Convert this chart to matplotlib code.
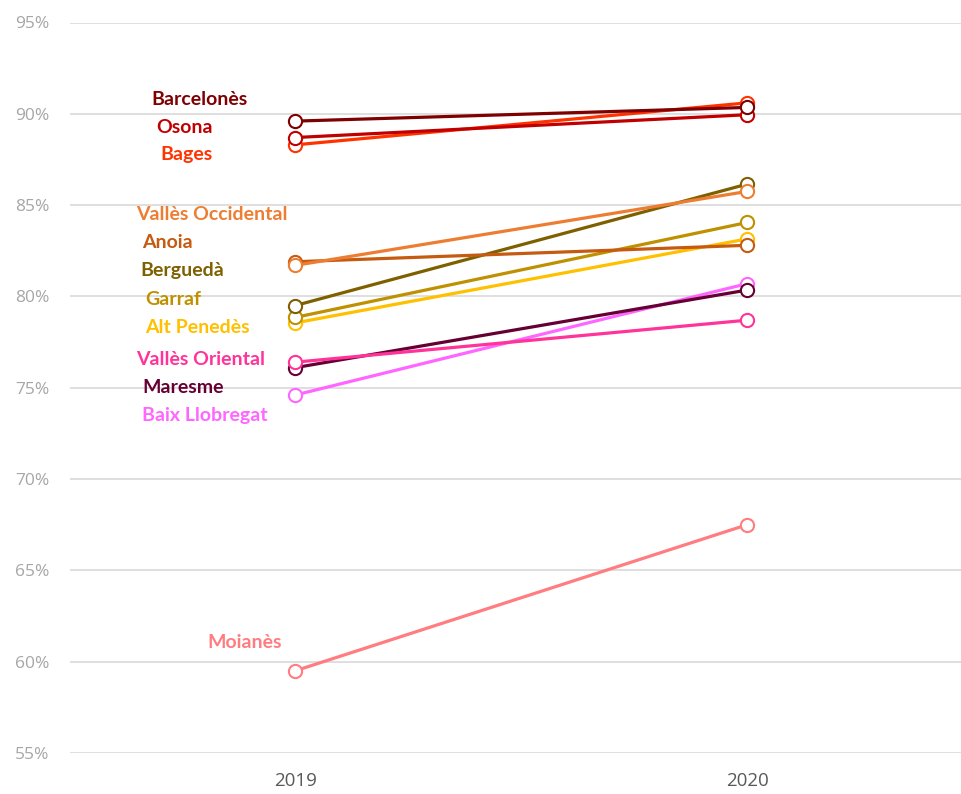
import matplotlib.pyplot as plt
from matplotlib.ticker import FuncFormatter

years = ['2019', '2020']
comarques = ['Barcelonès', 'Osona', 'Bages', 'Vallès Occidental', 'Anoia',
             'Berguedà', 'Garraf', 'Alt Penedès', 'Vallès Oriental',
             'Maresme', 'Baix Llobregat', 'Moianès']
val_2019 = [89.6, 88.7, 88.3, 81.7, 81.9, 79.5, 78.85, 78.55, 76.4, 76.1, 74.6, 59.5]
val_2020 = [90.35, 89.95, 90.6, 85.75, 82.8, 86.15, 84.05, 83.15, 78.7, 80.35, 80.7, 67.5]

colors = ['#7F0000', '#C00000', '#FF3300', '#ED7D31', '#C55A11', '#7F6000',
          '#BF9000', '#FFC000', '#FF3399', '#660033', '#FF66FF', '#FF7C80']

# label anchors (left x in category units, y in %)
label_x = [-0.318, -0.307, -0.298, -0.352, -0.338, -0.343, -0.332, -0.332,
           -0.352, -0.338, -0.338, -0.194]
label_y = [90.77, 89.24, 87.76, 84.47, 82.94, 81.41, 79.82, 78.29, 76.54,
           75.01, 73.48, 61.05]

fig = plt.figure(figsize=(9.61, 7.94), dpi=100)
ax = fig.add_axes([70 / 961, 41 / 794, 891 / 961, 730.5 / 794])

xs = range(len(years))
order = list(range(len(comarques)))[::-1]
for i in order:
    ax.plot(xs, [val_2019[i], val_2020[i]], color=colors[i], lw=2.3,
            marker='o', ms=9.5, mfc='white', mec=colors[i], mew=1.5,
            solid_capstyle='round', zorder=3 + (len(comarques) - i) * 0.01)
    ax.text(label_x[i], label_y[i], comarques[i], color=colors[i],
            fontsize=14, fontweight='bold', family='Lato',
            ha='left', va='center')

ax.set_xlim(-0.498, 1.473)
ax.set_ylim(55, 95)
ax.set_yticks(range(55, 96, 5))
ax.yaxis.set_major_formatter(FuncFormatter(lambda v, p: f'{v:.0f}%'))
ax.set_xticks(list(xs))
ax.set_xticklabels(years)
ax.grid(axis='y', color='#D9D9D9', lw=1.2)
ax.set_axisbelow(True)
for s in ax.spines.values():
    s.set_visible(False)
ax.tick_params(axis='y', length=0, pad=15, labelsize=12.5, labelcolor='#A6A6A6')
ax.tick_params(axis='x', length=0, pad=14, labelsize=13.5, labelcolor='#595959')
for lab in ax.get_yticklabels() + ax.get_xticklabels():
    lab.set_family('Open Sans')

fig.savefig('out.png', dpi=100)
